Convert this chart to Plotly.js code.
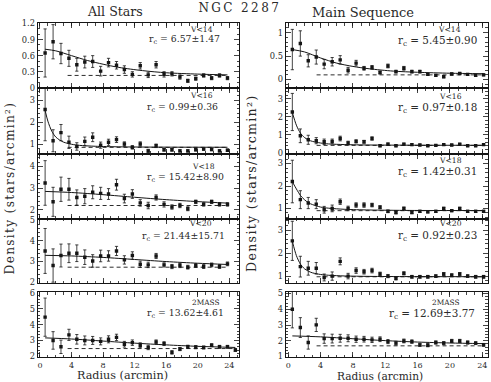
<!DOCTYPE html>
<html>
<head>
<meta charset="utf-8">
<script src="https://cdn.plot.ly/plotly-3.0.1.min.js"></script>
<style>html,body{margin:0;padding:0;background:#fff;}#chart{width:491px;height:382px;}</style>
</head>
<body>
<div id="chart"></div>
<script>
// ---------------- DATA ----------------
const radiusLeft = [0.65,1.66,2.66,3.67,4.67,5.68,6.68,7.69,8.69,9.7,10.7,11.71,12.71,13.72,14.72,15.73,16.73,17.74,18.74,19.75,20.75,21.76,22.76,23.77];
const radiusLeft2MASS = [0.65,1.66,2.66,3.67,4.67,5.68,6.68,7.69,8.69,9.7,10.7,11.71,12.71,13.72,14.72,15.73,16.73,17.74,18.74,19.75,20.75,21.76,22.76,23.77,24.77];
const radiusRight = [0.5,1.49,2.47,3.46,4.44,5.43,6.42,7.4,8.39,9.37,10.36,11.35,12.33,13.32,14.3,15.29,16.28,17.26,18.25,19.23,20.22,21.21,22.19,23.18,24.16];

// All Stars
const allV14 = [0.65,0.86,0.64,0.55,0.43,0.48,0.49,0.31,0.47,0.42,0.34,0.25,0.41,0.24,0.43,0.25,0.26,0.20,0.13,0.17,0.23,0.18,0.23,0.18];
const allV14Err = [0.45,0.32,0.19,0.15,0.12,0.11,0.11,0.09,0.08,0.07,0.07,0.05,0.06,0.05,0.06,0.05,0.04,0.04,0.03,0.03,0.03,0.03,0.03,0.03];
const allV16 = [2.57,1.15,1.52,1.08,0.89,1.12,1.31,0.95,1.08,1.2,1.0,0.85,1.0,0.69,0.92,0.74,0.74,0.69,0.69,0.74,0.77,0.75,0.69,0.72];
const allV16Err = [1.42,0.5,0.37,0.28,0.17,0.2,0.2,0.14,0.14,0.13,0.1,0.08,0.1,0.07,0.08,0.06,0.06,0.05,0.05,0.05,0.05,0.05,0.05,0.05];
const allV18 = [3.24,2.37,2.95,2.95,2.57,2.63,2.81,2.76,2.73,3.16,2.52,2.73,2.32,2.2,2.57,2.25,2.13,2.2,2.05,2.37,2.25,2.37,2.25,2.25];
const allV18Err = [1.03,0.67,0.56,0.5,0.35,0.35,0.3,0.28,0.25,0.25,0.2,0.2,0.15,0.15,0.12,0.12,0.1,0.1,0.09,0.08,0.08,0.08,0.08,0.08];
const allV20 = [3.51,2.81,3.29,3.4,3.4,3.21,3.03,3.27,3.27,3.51,3.08,3.29,2.87,2.84,3.27,2.84,2.76,2.81,2.73,2.81,2.76,2.84,2.76,2.89];
const allV20Err = [1.08,0.8,0.55,0.45,0.4,0.35,0.3,0.28,0.25,0.22,0.2,0.18,0.15,0.13,0.12,0.1,0.1,0.1,0.09,0.09,0.09,0.09,0.09,0.09];
const all2MASS = [4.47,3.01,2.61,3.36,3.08,3.01,3.01,2.95,3.08,3.2,2.77,2.87,2.71,2.57,2.91,2.81,2.26,2.47,2.61,2.59,2.57,2.71,2.61,2.61,2.41];
const all2MASSErr = [1.2,0.55,0.42,0.35,0.3,0.28,0.25,0.22,0.22,0.2,0.18,0.17,0.15,0.14,0.13,0.12,0.11,0.1,0.1,0.1,0.09,0.09,0.09,0.09,0.09];

// Main Sequence
const msV14 = [0.64,0.77,0.4,0.48,0.33,0.38,0.42,0.2,0.35,0.24,0.26,0.15,0.29,0.17,0.24,0.17,0.17,0.11,0.09,0.06,0.12,0.13,0.11,0.09,0.1];
const msV14Err = [0.43,0.27,0.13,0.15,0.1,0.09,0.09,0.06,0.06,0.04,0.04,0.03,0.04,0.03,0.04,0.03,0.03,0.02,0.02,0.02,0.02,0.02,0.02,0.02,0.02];
const msV16 = [2.27,0.95,0.73,0.68,0.62,0.64,0.8,0.55,0.64,0.62,0.8,0.4,0.49,0.4,0.49,0.46,0.44,0.4,0.42,0.46,0.44,0.49,0.4,0.4,0.46];
const msV16Err = [1.03,0.38,0.25,0.17,0.15,0.13,0.13,0.1,0.09,0.08,0.09,0.05,0.06,0.05,0.05,0.05,0.04,0.04,0.04,0.04,0.04,0.04,0.04,0.04,0.04];
const msV18 = [2.2,1.39,1.24,1.19,0.94,1.0,1.3,1.0,1.15,1.15,1.15,1.05,0.87,0.82,1.0,0.82,0.87,0.85,0.87,1.0,0.9,1.0,0.87,0.87,0.87];
const msV18Err = [0.95,0.4,0.25,0.2,0.15,0.15,0.12,0.1,0.1,0.1,0.08,0.07,0.06,0.06,0.06,0.05,0.05,0.05,0.05,0.05,0.05,0.05,0.05,0.05,0.05];
const msV20 = [2.53,1.41,1.34,1.34,0.94,1.0,1.64,1.0,1.24,1.19,1.24,1.09,1.0,0.9,1.12,0.97,0.97,0.97,1.0,1.09,1.04,1.09,1.0,0.97,0.97];
const msV20Err = [0.85,0.45,0.3,0.25,0.15,0.18,0.15,0.12,0.12,0.1,0.1,0.08,0.07,0.07,0.07,0.06,0.06,0.06,0.06,0.06,0.06,0.06,0.06,0.06,0.06];
const ms2MASS = [4.0,2.84,1.89,3.01,2.14,2.14,2.16,2.16,2.1,2.1,2.06,2.1,1.95,1.85,1.99,1.95,1.74,1.72,1.89,1.85,1.99,1.99,1.89,1.85,1.74];
const ms2MASSErr = [1.18,0.63,0.42,0.42,0.3,0.28,0.25,0.22,0.2,0.18,0.17,0.15,0.13,0.12,0.12,0.11,0.1,0.1,0.1,0.1,0.1,0.1,0.1,0.09,0.09];

// fitted King profiles
const fitAllV14X = [0.65,2,4,6,8,10,13,16,20,23.77];
const fitAllV14Y = [0.72,0.69,0.60,0.51,0.44,0.38,0.32,0.28,0.255,0.24];
const fitAllV16X = [0.65,1,1.5,2,2.5,3,4,5,7,10,15,23.77];
const fitAllV16Y = [2.53,2.04,1.58,1.32,1.18,1.085,0.99,0.94,0.90,0.873,0.86,0.854];
const fitAllV18X = [0.65,4,8,12,16,20,23.77];
const fitAllV18Y = [2.85,2.8,2.7,2.58,2.47,2.38,2.31];
const fitAllV20X = [0.65,4,8,12,16,20,23.77];
const fitAllV20Y = [3.3,3.27,3.2,3.1,3.0,2.92,2.86];
const fitAll2MASSX = [0.65,4,8,12,16,20,24.77];
const fitAll2MASSY = [3.17,3.1,2.97,2.84,2.73,2.64,2.57];
const fitMsV14X = [0.5,2,4,6,8,10,13,16,20,24.16];
const fitMsV14Y = [0.64,0.59,0.46,0.35,0.28,0.23,0.18,0.155,0.135,0.125];
const fitMsV16X = [0.5,1,1.5,2,2.5,3,4,5,7,10,15,24.16];
const fitMsV16Y = [2.24,1.54,1.10,0.86,0.72,0.64,0.55,0.50,0.464,0.441,0.43,0.424];
const fitMsV18X = [0.5,1,1.5,2,2.5,3,4,5,7,10,15,24.16];
const fitMsV18Y = [2.19,1.87,1.58,1.39,1.25,1.17,1.06,1.01,0.96,0.93,0.91,0.905];
const fitMsV20X = [0.5,1,1.5,2,2.5,3,4,5,7,10,15,24.16];
const fitMsV20Y = [2.51,1.89,1.52,1.32,1.21,1.14,1.07,1.036,1.005,0.987,0.978,0.973];
const fitMs2MASSX = [0.5,4,8,12,16,20,24.16];
const fitMs2MASSY = [2.31,2.25,2.13,2.01,1.92,1.86,1.82];

// background levels (dashed lines)
const bgAll = [0.23,0.85,2.2,2.73,2.5];
const bgMs = [0.1,0.42,0.9,0.97,1.68];
const bgStart = 3.5;

// labels
const magLabels = ['V<14','V<16','V<18','V<20','2MASS'];
const rcAll = ['6.57±1.47','0.99±0.36','15.42±8.90','21.44±15.71','13.62±4.61'];
const rcMs = ['5.45±0.90','0.97±0.18','1.42±0.31','0.92±0.23','12.69±3.77'];
const columnTitles = ['All Stars','Main Sequence'];
const mainTitle = 'NGC 2287';
const xTitle = 'Radius (arcmin)';
const yTitle = 'Density (stars/arcmin²)';
const xTickVals = [0,4,8,12,16,20,24];

// ---------------- LAYOUT HELPERS ----------------
const W = 491, H = 382;
const px = x => x / W;
const py = y => 1 - y / H;
const rowsPx = [[23.3,88],[88,153.5],[153.5,218.5],[218.5,283],[292,357]];
const colsPx = [[37.7,239],[285.7,487.7]];
const xRanges = [[-0.29,25.23],[-0.32,24.67]];
const yAx = [
  [{r:[-0.005,1.205],d:0.3,m:0.1},{r:[0.57,3.55],d:1,m:0.2},{r:[1.6,4.6],d:1,m:0.2},{r:[1.97,5.07],d:1,m:0.2},{r:[1.97,6.05],d:1,m:0.2}],
  [{r:[-0.18,1.2],d:0.5,m:0.1},{r:[-0.03,3.6],d:1,m:0.2},{r:[0.55,3.45],d:1,m:0.2},{r:[0.7,3.5],d:1,m:0.2},{r:[0.97,5.1],d:1,m:0.2}]
];

const panels = [
  [ {x:radiusLeft,y:allV14,e:allV14Err,fx:fitAllV14X,fy:fitAllV14Y},
    {x:radiusLeft,y:allV16,e:allV16Err,fx:fitAllV16X,fy:fitAllV16Y},
    {x:radiusLeft,y:allV18,e:allV18Err,fx:fitAllV18X,fy:fitAllV18Y},
    {x:radiusLeft,y:allV20,e:allV20Err,fx:fitAllV20X,fy:fitAllV20Y},
    {x:radiusLeft2MASS,y:all2MASS,e:all2MASSErr,fx:fitAll2MASSX,fy:fitAll2MASSY} ],
  [ {x:radiusRight,y:msV14,e:msV14Err,fx:fitMsV14X,fy:fitMsV14Y},
    {x:radiusRight,y:msV16,e:msV16Err,fx:fitMsV16X,fy:fitMsV16Y},
    {x:radiusRight,y:msV18,e:msV18Err,fx:fitMsV18X,fy:fitMsV18Y},
    {x:radiusRight,y:msV20,e:msV20Err,fx:fitMsV20X,fy:fitMsV20Y},
    {x:radiusRight,y:ms2MASS,e:ms2MASSErr,fx:fitMs2MASSX,fy:fitMs2MASSY} ]
];
const bgs = [bgAll, bgMs];
const rcs = [rcAll, rcMs];

const INK = '#151515';
const TXT = '#2a2a2a';
const FONT = 'DejaVu Serif';
const traces = [];
const layout = {
  width: W, height: H,
  margin: {l:0,r:0,t:0,b:0},
  paper_bgcolor: '#fff', plot_bgcolor: '#fff',
  showlegend: false, hovermode: false,
  font: {family: FONT, color: TXT, size: 8},
  annotations: []
};

for (let c = 0; c < 2; c++) {
  for (let r = 0; r < 5; r++) {
    const k = c * 5 + r + 1;
    const xa = 'x' + k, ya = 'y' + k;
    const p = panels[c][r];
    traces.push({x:p.fx, y:p.fy, xaxis:xa, yaxis:ya, mode:'lines', type:'scatter',
      line:{color:INK, width:1, shape:'spline', smoothing:0.8}});
    const lastX = p.x[p.x.length-1];
    traces.push({x:[bgStart,lastX], y:[bgs[c][r],bgs[c][r]], xaxis:xa, yaxis:ya, mode:'lines', type:'scatter',
      line:{color:INK, width:0.9, dash:'4px,3px'}});
    traces.push({x:p.x, y:p.y, xaxis:xa, yaxis:ya, mode:'markers', type:'scatter',
      marker:{symbol:'square', size:3.4, color:INK},
      error_y:{type:'data', array:p.e, visible:true, color:INK, thickness:0.8, width:1.6}});

    layout['xaxis' + k] = {
      domain:[px(colsPx[c][0]), px(colsPx[c][1])],
      anchor: ya, range: xRanges[c],
      showgrid:false, zeroline:false, showline:true, linecolor:INK, linewidth:1, mirror:'allticks',
      ticks:'inside', ticklen:5, tickwidth:0.8, tickcolor:INK,
      tickmode:'array', tickvals:xTickVals, ticktext:xTickVals.map(String),
      showticklabels: r === 4,
      tickfont:{family:FONT, size:8, color:TXT},
      minor:{dtick:1, tick0:0, ticks:'inside', ticklen:2.5, tickwidth:0.8, tickcolor:INK, showgrid:false}
    };
    const yy = yAx[c][r];
    layout['yaxis' + k] = {
      domain:[py(rowsPx[r][1]), py(rowsPx[r][0])],
      anchor: xa, range: yy.r,
      showgrid:false, zeroline:false, showline:true, linecolor:INK, linewidth:1, mirror:'allticks',
      ticks:'inside', ticklen:5, tickwidth:0.8, tickcolor:INK,
      tick0:0, dtick:yy.d,
      tickfont:{family:FONT, size:8.3, color:TXT},
      minor:{dtick:yy.m, tick0:0, ticks:'inside', ticklen:2.5, tickwidth:0.8, tickcolor:INK, showgrid:false}
    };
  }
}

// in-panel labels
const magPos = [
  [[201,29.0],[201.5,95.7],[203.8,166.7],[200.5,223.4],[206,302.4]],
  [[449,29.4],[450,96.7],[450,160.7],[450,224],[445.5,302.4]]
];
const rcPos = [
  [[184.7,39.8],[182.8,107.3],[185.3,177.5],[183.3,236.7],[185.8,313.4]],
  [[437.5,40.8],[437.5,108.1],[437.5,172.1],[437.5,236],[431.5,313.8]]
];
const rcSize = [9.3, 10.4];
for (let c = 0; c < 2; c++) {
  for (let r = 0; r < 5; r++) {
    layout.annotations.push({xref:'paper', yref:'paper', x:px(magPos[c][r][0]), y:py(magPos[c][r][1]),
      xanchor:'center', yanchor:'middle', showarrow:false, borderpad:0, text:magLabels[r],
      font:{family:FONT, size: r===4 ? 7.4 : 7.6, color:TXT}});
    layout.annotations.push({xref:'paper', yref:'paper', x:px(rcPos[c][r][0]), y:py(rcPos[c][r][1]),
      xanchor:'center', yanchor:'middle', showarrow:false, borderpad:0, text:'r<sub>c</sub> = ' + rcs[c][r],
      font:{family:FONT, size: rcSize[c], color:TXT}});
  }
}
// titles
layout.annotations.push({xref:'paper', yref:'paper', x:px(239.7), y:py(8.2), xanchor:'center', yanchor:'middle',
  showarrow:false, borderpad:0, text:mainTitle, font:{family:FONT, size:12, color:TXT}});
layout.annotations.push({xref:'paper', yref:'paper', x:px(115.3), y:py(11.8), xanchor:'center', yanchor:'middle',
  showarrow:false, borderpad:0, text:columnTitles[0], font:{family:FONT, size:12.6, color:TXT}});
layout.annotations.push({xref:'paper', yref:'paper', x:px(363.3), y:py(12.5), xanchor:'center', yanchor:'middle',
  showarrow:false, borderpad:0, text:columnTitles[1], font:{family:FONT, size:13, color:TXT}});
// axis titles
layout.annotations.push({xref:'paper', yref:'paper', x:px(122.3), y:py(375.5), xanchor:'center', yanchor:'middle',
  showarrow:false, borderpad:0, text:xTitle, font:{family:FONT, size:11.2, color:TXT}});
layout.annotations.push({xref:'paper', yref:'paper', x:px(380.3), y:py(375.5), xanchor:'center', yanchor:'middle',
  showarrow:false, borderpad:0, text:xTitle, font:{family:FONT, size:10.6, color:TXT}});
layout.annotations.push({xref:'paper', yref:'paper', x:px(9), y:py(188.5), xanchor:'center', yanchor:'middle',
  showarrow:false, borderpad:0, textangle:-90, text:yTitle, font:{family:FONT, size:12.2, color:TXT}});
layout.annotations.push({xref:'paper', yref:'paper', x:px(251.5), y:py(183.5), xanchor:'center', yanchor:'middle',
  showarrow:false, borderpad:0, textangle:-90, text:yTitle, font:{family:FONT, size:12.6, color:TXT}});

Plotly.newPlot('chart', traces, layout, {staticPlot:true, displayModeBar:false}).then(function(){
  document.querySelectorAll('g.annotation text').forEach(function(t){
    const s = t.textContent;
    if (s === mainTitle) t.style.letterSpacing = '2.4px';
    else if (s === yTitle) t.style.letterSpacing = '1.3px';
  });
  // drop empty placeholder text nodes (unused axis titles)
  document.querySelectorAll('#chart svg text').forEach(function(t){
    if (!t.textContent.replace(/\u200b/g,'').trim()) t.remove();
  });
});
</script>
</body>
</html>
